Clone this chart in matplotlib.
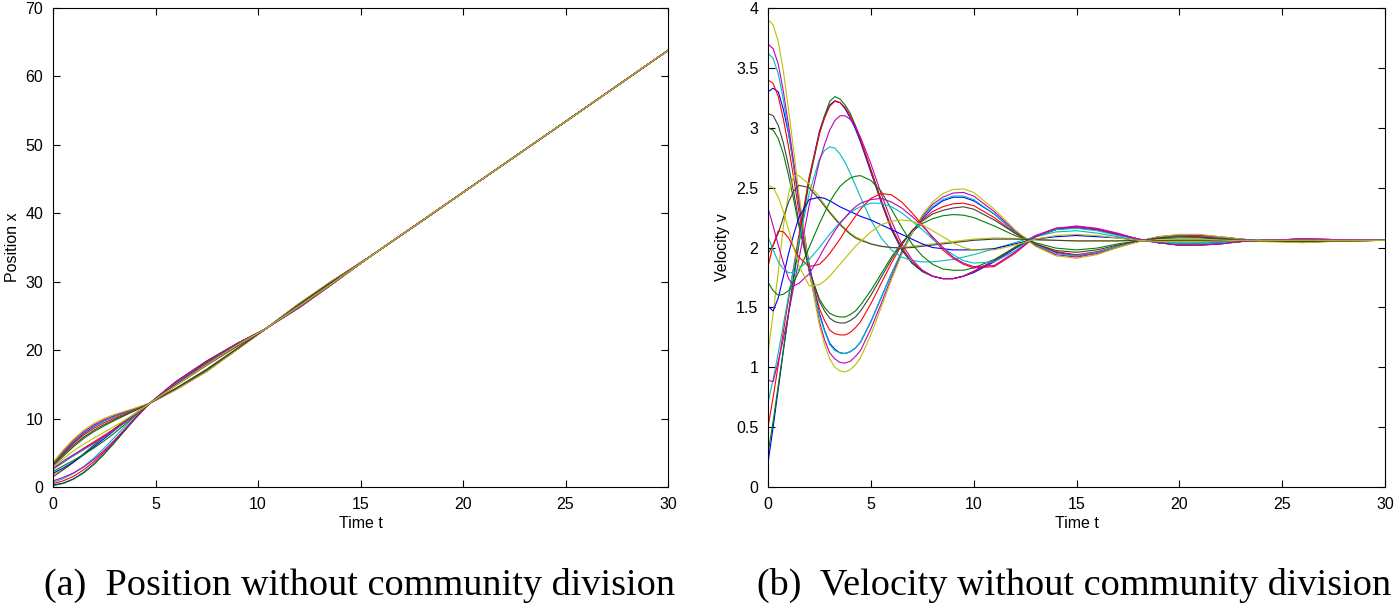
import matplotlib
matplotlib.use('Agg')
import matplotlib.pyplot as plt
from matplotlib.ticker import FuncFormatter, MultipleLocator

# sample times of the velocity curves (right panel)
t_vel = [0, 0.25, 0.5, 0.75, 1, 1.25, 1.5, 2, 2.5, 2.75, 3, 3.25, 3.5, 3.75, 4, 4.25, 4.5,
         5, 5.5, 6, 6.5, 7, 7.5, 8, 8.5, 9, 9.5, 10,
         11, 12, 13, 14, 15, 16, 17, 18, 19, 20, 21, 22, 23, 24, 26, 28, 30]

# velocity of every agent (order follows the colour cycle b g r c m y k)
v_01 = [3.30, 3.33, 3.30, 3.15, 2.95, 2.69, 2.40, 1.86, 1.45, 1.31, 1.20, 1.15, 1.12, 1.115, 1.13, 1.16, 1.21,
        1.38, 1.58, 1.78, 1.96, 2.12, 2.24, 2.33, 2.39, 2.42, 2.42, 2.39,
        2.28, 2.13, 2.03, 1.96, 1.93, 1.96, 2.01, 2.05, 2.09, 2.10, 2.10, 2.085, 2.07, 2.055, 2.045, 2.055, 2.06]
v_02 = [3.00, 2.98, 2.91, 2.78, 2.60, 2.40, 2.18, 1.81, 1.57, 1.50, 1.45, 1.43, 1.42, 1.42, 1.44, 1.47, 1.52,
        1.64, 1.78, 1.92, 2.04, 2.13, 2.20, 2.24, 2.265, 2.275, 2.27, 2.25,
        2.18, 2.10, 2.04, 1.995, 1.98, 1.995, 2.03, 2.055, 2.075, 2.08, 2.08, 2.07, 2.065, 2.055, 2.05, 2.055, 2.06]
v_03 = [3.40, 3.37, 3.26, 3.07, 2.84, 2.58, 2.30, 1.82, 1.49, 1.39, 1.31, 1.28, 1.27, 1.27, 1.29, 1.33, 1.38,
        1.53, 1.70, 1.87, 2.02, 2.14, 2.23, 2.30, 2.34, 2.365, 2.37, 2.35,
        2.25, 2.12, 2.025, 1.965, 1.94, 1.965, 2.01, 2.05, 2.08, 2.095, 2.09, 2.08, 2.065, 2.055, 2.05, 2.055, 2.06]
v_04 = [3.62, 3.58, 3.45, 3.23, 2.96, 2.67, 2.36, 1.82, 1.43, 1.30, 1.19, 1.14, 1.12, 1.115, 1.13, 1.16, 1.21,
        1.38, 1.58, 1.78, 1.97, 2.13, 2.25, 2.34, 2.40, 2.43, 2.43, 2.40,
        2.28, 2.13, 2.02, 1.95, 1.93, 1.96, 2.01, 2.05, 2.09, 2.10, 2.10, 2.085, 2.07, 2.055, 2.045, 2.055, 2.06]
v_05 = [3.70, 3.66, 3.53, 3.30, 3.02, 2.71, 2.38, 1.80, 1.38, 1.23, 1.12, 1.07, 1.04, 1.035, 1.05, 1.09, 1.14,
        1.32, 1.53, 1.75, 1.95, 2.12, 2.26, 2.36, 2.42, 2.455, 2.46, 2.43,
        2.30, 2.14, 2.015, 1.94, 1.92, 1.95, 2.00, 2.05, 2.09, 2.105, 2.10, 2.09, 2.07, 2.055, 2.045, 2.055, 2.06]
v_06 = [3.90, 3.86, 3.72, 3.47, 3.15, 2.81, 2.45, 1.82, 1.35, 1.19, 1.07, 1.00, 0.97, 0.96, 0.98, 1.02, 1.08,
        1.27, 1.50, 1.73, 1.94, 2.12, 2.27, 2.38, 2.45, 2.485, 2.49, 2.46,
        2.32, 2.15, 2.01, 1.93, 1.91, 1.94, 2.00, 2.05, 2.09, 2.11, 2.11, 2.09, 2.07, 2.05, 2.04, 2.055, 2.06]
v_07 = [3.12, 3.10, 3.02, 2.87, 2.68, 2.46, 2.22, 1.82, 1.55, 1.47, 1.41, 1.38, 1.37, 1.37, 1.39, 1.42, 1.47,
        1.60, 1.75, 1.90, 2.03, 2.14, 2.22, 2.28, 2.31, 2.33, 2.34, 2.32,
        2.23, 2.12, 2.03, 1.975, 1.96, 1.98, 2.02, 2.055, 2.08, 2.09, 2.085, 2.075, 2.065, 2.055, 2.05, 2.055, 2.06]
v_08 = [0.20, 0.50, 0.82, 1.14, 1.45, 1.76, 2.05, 2.58, 2.97, 3.10, 3.19, 3.225, 3.21, 3.16, 3.08, 2.99, 2.88,
        2.63, 2.38, 2.15, 1.98, 1.87, 1.80, 1.76, 1.74, 1.74, 1.76, 1.79,
        1.88, 1.99, 2.09, 2.15, 2.17, 2.15, 2.11, 2.07, 2.04, 2.03, 2.03, 2.04, 2.05, 2.06, 2.07, 2.065, 2.06]
v_09 = [0.28, 0.55, 0.85, 1.15, 1.45, 1.74, 2.02, 2.55, 2.95, 3.10, 3.22, 3.26, 3.24, 3.19, 3.12, 3.02, 2.90,
        2.65, 2.39, 2.16, 1.99, 1.87, 1.80, 1.76, 1.74, 1.74, 1.76, 1.80,
        1.89, 2.00, 2.09, 2.15, 2.17, 2.15, 2.11, 2.07, 2.04, 2.03, 2.03, 2.04, 2.05, 2.06, 2.07, 2.065, 2.06]
v_10 = [0.50, 0.75, 1.02, 1.30, 1.57, 1.84, 2.10, 2.58, 2.95, 3.08, 3.18, 3.22, 3.21, 3.17, 3.10, 3.01, 2.90,
        2.65, 2.40, 2.17, 2.00, 1.88, 1.81, 1.76, 1.74, 1.74, 1.76, 1.80,
        1.89, 2.00, 2.09, 2.15, 2.17, 2.15, 2.11, 2.07, 2.04, 2.03, 2.03, 2.04, 2.05, 2.06, 2.065, 2.065, 2.06]
v_11 = [0.70, 0.90, 1.12, 1.36, 1.60, 1.83, 2.05, 2.45, 2.74, 2.81, 2.84, 2.83, 2.78, 2.71, 2.62, 2.52, 2.42,
        2.23, 2.08, 1.98, 1.92, 1.89, 1.88, 1.88, 1.89, 1.90, 1.92, 1.94,
        1.99, 2.04, 2.09, 2.13, 2.14, 2.12, 2.09, 2.06, 2.04, 2.04, 2.04, 2.05, 2.055, 2.06, 2.065, 2.06, 2.06]
v_12 = [0.89, 0.88, 1.05, 1.24, 1.45, 1.67, 1.90, 2.35, 2.72, 2.86, 2.98, 3.06, 3.10, 3.10, 3.07, 3.01, 2.92,
        2.70, 2.45, 2.22, 2.03, 1.90, 1.81, 1.76, 1.74, 1.74, 1.76, 1.80,
        1.89, 2.00, 2.10, 2.16, 2.18, 2.16, 2.12, 2.07, 2.04, 2.02, 2.03, 2.04, 2.05, 2.06, 2.07, 2.065, 2.06]
v_13 = [1.12, 1.45, 1.80, 2.18, 2.45, 2.60, 2.60, 2.53, 2.42, 2.36, 2.30, 2.25, 2.20, 2.16, 2.12, 2.09, 2.07,
        2.03, 2.01, 2.00, 2.00, 2.01, 2.02, 2.03, 2.04, 2.05, 2.06, 2.07,
        2.08, 2.075, 2.065, 2.06, 2.055, 2.055, 2.055, 2.06, 2.06, 2.065, 2.065, 2.06, 2.06, 2.06, 2.06, 2.06, 2.06]
v_14 = [1.95, 2.02, 2.12, 2.25, 2.38, 2.47, 2.52, 2.50, 2.40, 2.345, 2.29, 2.24, 2.19, 2.15, 2.11, 2.08, 2.06,
        2.03, 2.01, 2.00, 1.995, 2.00, 2.01, 2.02, 2.03, 2.04, 2.05, 2.06,
        2.07, 2.07, 2.065, 2.06, 2.055, 2.055, 2.055, 2.06, 2.06, 2.06, 2.06, 2.06, 2.06, 2.06, 2.06, 2.06, 2.06]
v_15 = [1.51, 1.47, 1.58, 1.76, 1.95, 2.11, 2.25, 2.40, 2.42, 2.41, 2.39, 2.365, 2.34, 2.32, 2.30, 2.28, 2.26,
        2.23, 2.19, 2.15, 2.11, 2.07, 2.03, 2.00, 1.99, 1.98, 1.98, 1.98,
        1.99, 2.03, 2.07, 2.09, 2.10, 2.09, 2.08, 2.06, 2.05, 2.05, 2.05, 2.055, 2.06, 2.06, 2.06, 2.06, 2.06]
v_16 = [1.71, 1.64, 1.60, 1.61, 1.64, 1.71, 1.80, 2.00, 2.20, 2.29, 2.38, 2.45, 2.51, 2.55, 2.58, 2.595, 2.60,
        2.56, 2.47, 2.32, 2.17, 2.03, 1.93, 1.86, 1.82, 1.81, 1.81, 1.83,
        1.90, 2.00, 2.09, 2.15, 2.17, 2.15, 2.11, 2.07, 2.04, 2.02, 2.02, 2.03, 2.05, 2.06, 2.07, 2.065, 2.06]
v_17 = [1.84, 2.02, 2.14, 2.13, 2.08, 2.00, 1.92, 1.84, 1.86, 1.90, 1.95, 2.01, 2.07, 2.14, 2.20, 2.26, 2.32,
        2.41, 2.45, 2.44, 2.38, 2.29, 2.19, 2.08, 1.98, 1.91, 1.86, 1.83,
        1.84, 1.95, 2.09, 2.16, 2.17, 2.15, 2.11, 2.07, 2.04, 2.02, 2.02, 2.03, 2.05, 2.06, 2.07, 2.065, 2.06]
v_18 = [2.09, 1.98, 1.88, 1.82, 1.79, 1.79, 1.82, 1.90, 2.00, 2.055, 2.11, 2.16, 2.21, 2.25, 2.29, 2.32, 2.34,
        2.37, 2.37, 2.34, 2.29, 2.22, 2.15, 2.07, 2.00, 1.94, 1.89, 1.87,
        1.88, 1.97, 2.09, 2.15, 2.16, 2.14, 2.10, 2.07, 2.04, 2.03, 2.03, 2.04, 2.05, 2.06, 2.065, 2.065, 2.06]
v_19 = [2.33, 2.18, 2.02, 1.87, 1.74, 1.68, 1.70, 1.78, 1.92, 2.00, 2.07, 2.14, 2.20, 2.25, 2.30, 2.34, 2.37,
        2.40, 2.41, 2.38, 2.33, 2.26, 2.18, 2.09, 2.00, 1.92, 1.87, 1.84,
        1.85, 1.96, 2.09, 2.16, 2.17, 2.15, 2.11, 2.07, 2.04, 2.02, 2.02, 2.03, 2.05, 2.06, 2.07, 2.065, 2.06]
v_20 = [2.52, 2.50, 2.42, 2.30, 2.15, 2.00, 1.85, 1.68, 1.69, 1.72, 1.76, 1.81, 1.86, 1.91, 1.96, 2.01, 2.05,
        2.13, 2.19, 2.22, 2.23, 2.22, 2.19, 2.14, 2.09, 2.04, 2.00, 1.98,
        1.98, 2.02, 2.07, 2.10, 2.11, 2.10, 2.08, 2.06, 2.05, 2.05, 2.05, 2.055, 2.06, 2.06, 2.06, 2.06, 2.06]

# sample times of the position curves (left panel)
t_pos = [0, 0.5, 1, 1.5, 2, 2.5, 3, 3.5, 4, 4.7, 6, 7.5, 9, 10.3, 12, 13.5, 15.5, 18, 20, 25, 30]

x_01 = [3.40, 5.01, 6.52, 7.83, 8.86, 9.67, 10.31, 10.87, 11.42, 12.2, 14.28, 16.97, 20.16, 22.95, 26.75, 29.85, 33.75, 38.86, 43.05, 53.4, 63.8]
x_02 = [3.00, 4.49, 5.89, 7.09, 8.10, 8.95, 9.72, 10.44, 11.16, 12.2, 14.45, 17.22, 20.30, 22.95, 26.65, 29.75, 33.75, 38.88, 43.05, 53.4, 63.8]
x_03 = [3.30, 4.90, 6.37, 7.61, 8.60, 9.40, 10.07, 10.70, 11.31, 12.2, 14.34, 17.06, 20.21, 22.95, 26.72, 29.82, 33.75, 38.87, 43.05, 53.4, 63.8]
x_04 = [3.45, 5.14, 6.67, 7.94, 8.94, 9.72, 10.34, 10.89, 11.43, 12.2, 14.27, 16.95, 20.16, 22.95, 26.76, 29.86, 33.75, 38.86, 43.05, 53.4, 63.8]
x_05 = [3.50, 5.23, 6.81, 8.09, 9.09, 9.86, 10.46, 10.97, 11.47, 12.2, 14.23, 16.90, 20.13, 22.95, 26.78, 29.88, 33.75, 38.86, 43.05, 53.4, 63.8]
x_06 = [3.60, 5.40, 7.00, 8.30, 9.30, 10.03, 10.60, 11.07, 11.53, 12.2, 14.20, 16.85, 20.10, 22.95, 26.80, 29.90, 33.75, 38.85, 43.05, 53.4, 63.8]
x_07 = [3.20, 4.71, 6.11, 7.31, 8.31, 9.14, 9.87, 10.55, 11.23, 12.2, 14.39, 17.13, 20.25, 22.95, 26.69, 29.79, 33.75, 38.87, 43.05, 53.4, 63.8]
x_08 = [0.30, 0.57, 1.19, 2.13, 3.38, 4.88, 6.54, 8.27, 9.96, 12.2, 15.40, 18.40, 21.00, 23.00, 26.20, 29.40, 33.75, 38.93, 43.05, 53.4, 63.8]
x_09 = [0.20, 0.51, 1.14, 2.07, 3.31, 4.81, 6.48, 8.23, 9.96, 12.2, 15.40, 18.40, 21.00, 23.00, 26.20, 29.40, 33.75, 38.93, 43.05, 53.4, 63.8]
x_10 = [0.50, 0.90, 1.56, 2.52, 3.73, 5.17, 6.76, 8.42, 10.05, 12.2, 15.40, 18.40, 21.00, 23.00, 26.20, 29.40, 33.75, 38.93, 43.05, 53.4, 63.8]
x_11 = [0.70, 1.21, 1.98, 2.99, 4.25, 5.70, 7.27, 8.84, 10.35, 12.2, 15.26, 18.24, 20.90, 22.99, 26.26, 29.44, 33.75, 38.92, 43.05, 53.4, 63.8]
x_12 = [0.90, 1.41, 2.06, 2.93, 4.04, 5.36, 6.86, 8.44, 10.05, 12.2, 15.37, 18.36, 20.98, 23.00, 26.22, 29.41, 33.75, 38.93, 43.05, 53.4, 63.8]
x_13 = [1.80, 2.53, 3.58, 4.83, 6.12, 7.36, 8.54, 9.67, 10.75, 12.2, 14.85, 17.80, 20.60, 22.95, 26.45, 29.55, 33.75, 38.90, 43.05, 53.4, 63.8]
x_14 = [1.50, 2.52, 3.64, 4.87, 6.12, 7.35, 8.52, 9.64, 10.72, 12.2, 14.85, 17.80, 20.60, 22.95, 26.45, 29.55, 33.75, 38.90, 43.05, 53.4, 63.8]
x_15 = [2.00, 2.77, 3.66, 4.71, 5.87, 7.07, 8.28, 9.46, 10.62, 12.2, 14.95, 18.00, 20.75, 23.00, 26.40, 29.50, 33.75, 38.90, 43.05, 53.4, 63.8]
x_16 = [2.25, 3.08, 3.89, 4.75, 5.70, 6.75, 7.89, 9.12, 10.39, 12.2, 15.10, 18.25, 20.85, 23.00, 26.30, 29.45, 33.75, 38.90, 43.05, 53.4, 63.8]
x_17 = [2.60, 3.60, 4.66, 5.67, 6.61, 7.55, 8.50, 9.52, 10.59, 12.2, 15.00, 18.10, 20.80, 23.00, 26.35, 29.50, 33.75, 38.90, 43.05, 53.4, 63.8]
x_18 = [2.62, 3.61, 4.53, 5.43, 6.36, 7.34, 8.37, 9.45, 10.57, 12.2, 15.00, 18.10, 20.80, 23.00, 26.35, 29.50, 33.75, 38.90, 43.05, 53.4, 63.8]
x_19 = [2.70, 3.79, 4.73, 5.59, 6.45, 7.38, 8.38, 9.44, 10.57, 12.2, 15.00, 18.10, 20.80, 23.00, 26.35, 29.50, 33.75, 38.90, 43.05, 53.4, 63.8]
x_20 = [2.90, 4.14, 5.28, 6.28, 7.16, 8.00, 8.86, 9.77, 10.72, 12.2, 14.85, 17.90, 20.75, 23.00, 26.40, 29.50, 33.75, 38.90, 43.05, 53.4, 63.8]

velocities = [v_01, v_02, v_03, v_04, v_05, v_06, v_07, v_08, v_09, v_10,
              v_11, v_12, v_13, v_14, v_15, v_16, v_17, v_18, v_19, v_20]
positions = [x_01, x_02, x_03, x_04, x_05, x_06, x_07, x_08, x_09, x_10,
             x_11, x_12, x_13, x_14, x_15, x_16, x_17, x_18, x_19, x_20]

# old matlab colour order: b g r c m y k
matlab_colors = [(0, 0, 1), (0, 0.5, 0), (1, 0, 0), (0, 0.75, 0.75),
                 (0.75, 0, 0.75), (0.75, 0.75, 0), (0.25, 0.25, 0.25)]

plt.rcParams['font.family'] = ['Liberation Sans', 'DejaVu Sans']


def matlab_style(ax, xlabel, ylabel):
	ax.tick_params(direction='in', top=True, right=True, length=5, width=0.8,
	               labelsize=11.5, pad=7)
	for sp in ax.spines.values():
		sp.set_linewidth(0.8)
	ax.xaxis.set_major_formatter(FuncFormatter(lambda v, _: '%g' % v))
	ax.yaxis.set_major_formatter(FuncFormatter(lambda v, _: '%g' % v))
	ax.set_xlabel(xlabel, fontsize=11.5, labelpad=3)
	ax.set_ylabel(ylabel, fontsize=11.5, labelpad=4)


fig = plt.figure(figsize=(13.95, 6.08), dpi=100)

ax1 = fig.add_axes([53 / 1395, 121 / 608, 615 / 1395, 479 / 608])
for i, xs in enumerate(positions):
	ax1.plot(t_pos, xs, c=matlab_colors[i % 7], lw=0.8)
ax1.set_xlim(0, 30)
ax1.set_ylim(0, 70)
ax1.xaxis.set_major_locator(MultipleLocator(5))
ax1.yaxis.set_major_locator(MultipleLocator(10))
matlab_style(ax1, 'Time t', 'Position x')

ax2 = fig.add_axes([768 / 1395, 121 / 608, 617 / 1395, 479 / 608])
for i, vs in enumerate(velocities):
	ax2.plot(t_vel, vs, c=matlab_colors[i % 7], lw=0.8)
ax2.set_xlim(0, 30)
ax2.set_ylim(0, 4)
ax2.xaxis.set_major_locator(MultipleLocator(5))
ax2.yaxis.set_major_locator(MultipleLocator(0.5))
matlab_style(ax2, 'Time t', 'Velocity v')

serif = ['Liberation Serif', 'DejaVu Serif']
fig.text(360 / 1395, 23 / 608, '(a)  Position without community division',
         family=serif, fontsize=27.5, ha='center', va='center')
fig.text(1074 / 1395, 23 / 608, '(b)  Velocity without community division',
         family=serif, fontsize=27.5, ha='center', va='center')

fig.savefig('out.png', dpi=100)
